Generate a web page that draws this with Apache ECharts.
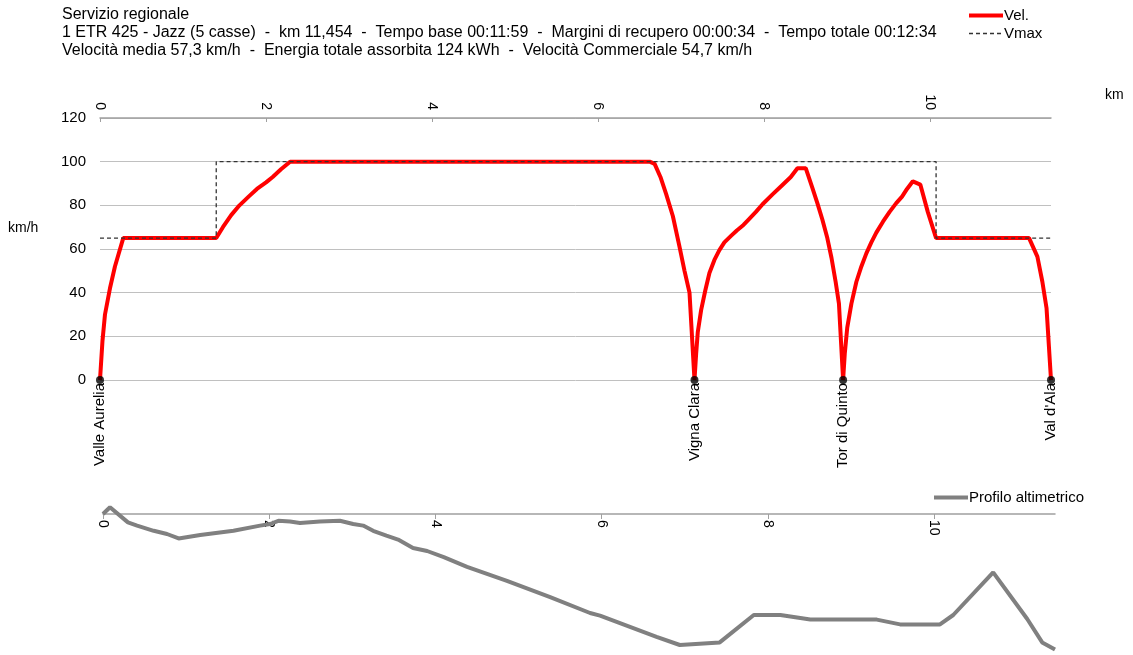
<!DOCTYPE html>
<html>
<head>
<meta charset="utf-8">
<script src="https://cdn.jsdelivr.net/npm/echarts@6/dist/echarts.min.js"></script>
<style>
html,body{margin:0;padding:0;background:#fff;}
#chart{width:1133px;height:655px;}
</style>
</head>
<body>
<div id="chart"></div>
<script>
// ---- Data ----
const titleLines = [
  'Servizio regionale',
  '1 ETR 425 - Jazz (5 casse)  -  km 11,454  -  Tempo base 00:11:59  -  Margini di recupero 00:00:34  -  Tempo totale 00:12:34',
  'Velocità media 57,3 km/h  -  Energia totale assorbita 124 kWh  -  Velocità Commerciale 54,7 km/h'
];
const kmTicks = [0, 2, 4, 6, 8, 10];
const totalKm = 11.454;

const speedKm = [0, 0.03, 0.06, 0.12, 0.18, 0.28, 1.40, 1.48, 1.58, 1.68, 1.79, 1.89, 2.00, 2.08, 2.18, 2.29,
  6.62, 6.68, 6.75, 6.82, 6.90, 6.98, 7.04, 7.10, 7.16, 7.18, 7.20, 7.24, 7.29, 7.34, 7.40, 7.46, 7.52, 7.60,
  7.67, 7.75, 7.80, 7.90, 7.98, 8.10, 8.21, 8.32, 8.40, 8.50, 8.58, 8.64, 8.70, 8.76, 8.81, 8.86, 8.90, 8.95,
  8.97, 9.00, 9.05, 9.11, 9.17, 9.23, 9.29, 9.35, 9.43, 9.51, 9.59, 9.66, 9.72, 9.79, 9.88, 9.97, 10.07,
  11.19, 11.29, 11.35, 11.40, 11.454];
const speedVal = [0, 18, 30, 42, 52, 65, 65, 70, 75.5, 80, 84, 87.5, 90.5, 93, 96.5, 100,
  100, 99, 93, 85, 75, 61, 50, 40, 0, 12, 22, 32, 41, 49, 55, 59.5, 63, 66,
  68.5, 71, 73, 77, 80.5, 85, 89, 93, 97, 97, 88, 81, 73.5, 65, 56, 45, 35, 0,
  12, 24, 35, 45, 52, 58, 63, 67.5, 72.5, 77, 81, 84, 87.5, 91, 89.5, 77, 65,
  65, 56.5, 45, 33, 0];

const vmaxKm = [0, 1.40, 1.40, 10.07, 10.07, 11.454];
const vmaxVal = [65, 65, 100, 100, 65, 65];

const stationNames = ['Valle Aurelia', 'Vigna Clara', 'Tor di Quinto', "Val d'Ala"];
const stationKm = [0, 7.16, 8.95, 11.454];

// relative elevation (m, relative to start)
const profKm = [0, 0.084, 0.30, 0.41, 0.61, 0.77, 0.91, 1.17, 1.57, 1.89, 2.01, 2.11, 2.25, 2.37, 2.61, 2.85,
  3.01, 3.13, 3.25, 3.41, 3.55, 3.73, 3.90, 4.10, 4.38, 4.86, 5.38, 5.86, 5.98, 6.66, 6.94, 7.42, 7.83, 8.15,
  8.51, 9.31, 9.59, 10.07, 10.23, 10.71, 11.12, 11.30, 11.454];
const profVal = [0, 1.7, -2.1, -2.9, -4.2, -5.0, -6.1, -5.25, -4.2, -2.9, -2.5, -1.7, -1.9, -2.25, -1.9, -1.7,
  -2.5, -2.9, -4.2, -5.4, -6.4, -8.5, -9.25, -10.8, -13.2, -16.7, -20.8, -24.75, -25.4, -30.7, -32.75, -32.1, -25.25, -25.25,
  -26.4, -26.4, -27.6, -27.6, -25.25, -14.6, -26.25, -32.1, -33.9];

// ---- Chart ----
const FONT = '"Liberation Sans", Arial, sans-serif';
const zip = (a, b) => a.map((v, i) => [v, b[i]]);

const chart = echarts.init(document.getElementById('chart'), null, {renderer: 'canvas'});
chart.setOption({
  animation: false,
  backgroundColor: '#fff',
  textStyle: {fontFamily: FONT},
  graphic: [
    {type: 'text', left: 62, top: 6, style: {text: titleLines.join('\n'), font: '16px ' + FONT, fill: '#000', lineHeight: 18}},
    {type: 'text', left: 8, top: 221, style: {text: 'km/h', font: '14px ' + FONT, fill: '#000'}},
    {type: 'text', left: 1105, top: 88, style: {text: 'km', font: '14px ' + FONT, fill: '#000'}}
  ],
  legend: [
    {
      orient: 'vertical', left: 962, top: 3, itemWidth: 34, itemHeight: 14, itemGap: 3,
      itemStyle: {opacity: 0},
      textStyle: {fontFamily: FONT, fontSize: 15, color: '#000', padding: [0, 0, 0, -4]},
      data: [
        {name: 'Vel.', lineStyle: {width: 4, color: '#ff0000'}},
        {name: 'Vmax', lineStyle: {width: 1.3, color: '#333', type: [4, 3]}}
      ]
    },
    {
      orient: 'horizontal', left: 927, top: 485, itemWidth: 34, itemHeight: 14,
      itemStyle: {opacity: 0},
      textStyle: {fontFamily: FONT, fontSize: 15, color: '#000', padding: [0, 0, 0, -4]},
      data: [{name: 'Profilo altimetrico', lineStyle: {width: 4, color: '#808080'}}]
    }
  ],
  grid: [
    {left: 100, right: 82, top: 118, bottom: 275, outerBoundsMode: 'none', containLabel: false},
    {left: 103, right: 78, top: 514, bottom: 2, outerBoundsMode: 'none', containLabel: false}
  ],
  xAxis: [
    {
      type: 'value', gridIndex: 0, position: 'top', min: 0, max: totalKm,
      axisLine: {show: true, onZero: false, lineStyle: {color: '#a0a0a0', width: 1.5}},
      axisTick: {show: true, inside: true, length: 4, customValues: kmTicks, lineStyle: {color: '#a0a0a0'}},
      axisLabel: {rotate: 90, margin: 8, fontSize: 14, color: '#000', fontFamily: FONT, customValues: kmTicks},
      splitLine: {show: false}
    },
    {
      type: 'value', gridIndex: 0, position: 'bottom', min: 0, max: totalKm,
      axisLine: {show: false, onZero: false},
      axisTick: {show: false},
      axisLabel: {
        rotate: 90, margin: 3, fontSize: 15, color: '#000', fontFamily: FONT, customValues: stationKm,
        formatter: function (v) {
          let best = 0;
          stationKm.forEach((k, i) => { if (Math.abs(k - v) < Math.abs(stationKm[best] - v)) best = i; });
          return stationNames[best];
        }
      },
      splitLine: {show: false}
    },
    {
      type: 'value', gridIndex: 1, position: 'top', min: 0, max: totalKm,
      axisLine: {show: true, onZero: false, lineStyle: {color: '#a0a0a0', width: 1.5}},
      axisTick: {show: true, inside: true, length: 5, customValues: kmTicks, lineStyle: {color: '#a0a0a0'}},
      axisLabel: {inside: true, rotate: 90, margin: 6, fontSize: 14, color: '#000', fontFamily: FONT, customValues: kmTicks},
      splitLine: {show: false}
    }
  ],
  yAxis: [
    {
      type: 'value', gridIndex: 0, min: 0, max: 120, interval: 20,
      axisLine: {show: false}, axisTick: {show: false},
      axisLabel: {fontSize: 15, color: '#000', margin: 14, fontFamily: FONT},
      splitLine: {show: true, lineStyle: {color: '#c0c0c0', width: 1}}
    },
    {
      type: 'value', gridIndex: 1, min: -34.75, max: 0, show: false,
      splitLine: {show: false}
    }
  ],
  series: [
    {
      name: 'Vel.', type: 'line', xAxisIndex: 0, yAxisIndex: 0,
      data: zip(speedKm, speedVal), symbol: 'none', z: 3,
      lineStyle: {color: '#ff0000', width: 4}, itemStyle: {color: '#ff0000'}
    },
    {
      name: 'Vmax', type: 'line', xAxisIndex: 0, yAxisIndex: 0,
      data: zip(vmaxKm, vmaxVal), symbol: 'none', z: 4,
      lineStyle: {color: '#333', width: 1.3, type: [4, 3]}, itemStyle: {color: '#333'}
    },
    {
      name: 'Stazioni', type: 'scatter', xAxisIndex: 0, yAxisIndex: 0,
      data: stationKm.map(k => [k, 0]), symbol: 'circle', symbolSize: 8, z: 5,
      itemStyle: {color: '#000'}, silent: true
    },
    {
      name: 'Profilo altimetrico', type: 'line', xAxisIndex: 2, yAxisIndex: 1,
      data: zip(profKm, profVal), symbol: 'none', clip: false,
      lineStyle: {color: '#808080', width: 4}, itemStyle: {color: '#808080'}
    }
  ]
});
</script>
</body>
</html>
